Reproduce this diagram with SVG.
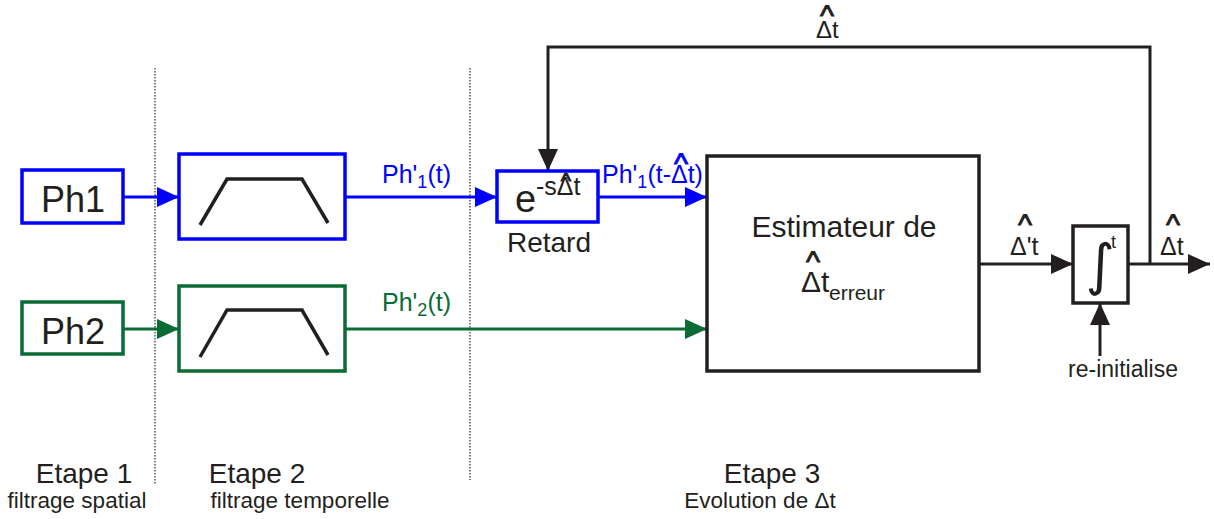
<svg xmlns="http://www.w3.org/2000/svg" width="1214" height="519" viewBox="0 0 1214 519">
<style>
text{font-family:"Liberation Sans",Arial,sans-serif;fill:#231f20}
.blue{fill:#0000ff}
.green{fill:#0a6b35}
.bbox{fill:#fff;stroke:#0000ff;stroke-width:3.5}
.gbox{fill:#fff;stroke:#0a6b35;stroke-width:3.5}
.kbox{fill:#fff;stroke:#231f20;stroke-width:3.5}
.trap{fill:none;stroke:#231f20;stroke-width:3.5}
.bl{stroke:#0000ff;stroke-width:3;fill:none}
.gl{stroke:#0a6b35;stroke-width:3;fill:none}
.kl{stroke:#231f20;stroke-width:3;fill:none}
.dot{stroke:#555;stroke-width:1.5;stroke-dasharray:1.5 1.5;fill:none}
.hat{text-anchor:middle;stroke:#231f20;stroke-width:0.9}
.hat.blue{stroke:#0000ff}
</style>
<defs>
<marker id="ab" markerUnits="userSpaceOnUse" markerWidth="24" markerHeight="22" refX="22" refY="10" orient="auto"><path d="M0,0 L22,10 L0,20 z" fill="#0000ff"/></marker>
<marker id="ag" markerUnits="userSpaceOnUse" markerWidth="24" markerHeight="22" refX="22" refY="10" orient="auto"><path d="M0,0 L22,10 L0,20 z" fill="#0a6b35"/></marker>
<marker id="ak" markerUnits="userSpaceOnUse" markerWidth="24" markerHeight="22" refX="22" refY="10" orient="auto"><path d="M0,0 L22,10 L0,20 z" fill="#231f20"/></marker>
</defs>
<rect width="1214" height="519" fill="#fff"/>

<g id="separators">
<line class="dot" x1="155" y1="68" x2="155" y2="484"/>
<line class="dot" x1="470" y1="68" x2="470" y2="480"/>
</g>

<g id="connectors">
<line class="bl" x1="123" y1="197" x2="179" y2="197" marker-end="url(#ab)"/>
<line class="gl" x1="123" y1="329" x2="179" y2="329" marker-end="url(#ag)"/>
<line class="bl" x1="345" y1="197" x2="497" y2="197" marker-end="url(#ab)"/>
<line class="bl" x1="598" y1="197" x2="707" y2="197" marker-end="url(#ab)"/>
<line class="gl" x1="345" y1="329" x2="707" y2="329" marker-end="url(#ag)"/>
<line class="kl" x1="979" y1="264" x2="1073" y2="264" marker-end="url(#ak)"/>
<line class="kl" x1="1128" y1="264" x2="1210" y2="264" marker-end="url(#ak)"/>
<polyline class="kl" points="1150,264 1150,47 548,47 548,171" marker-end="url(#ak)"/>
<line class="kl" x1="1100" y1="356" x2="1100" y2="303" marker-end="url(#ak)"/>
<text x="382" y="183" font-size="25" class="blue">Ph'<tspan font-size="18" dy="5" class="blue">1</tspan><tspan dy="-5" class="blue">(t)</tspan></text>
<text x="382" y="311" font-size="25" class="green">Ph'<tspan font-size="18" dy="5" class="green">2</tspan><tspan dy="-5" class="green">(t)</tspan></text>
<text x="602" y="183" font-size="25" class="blue">Ph'<tspan font-size="18" dy="5" class="blue">1</tspan><tspan dy="-5" class="blue">(t-Δt)</tspan></text>
<text x="681" y="174" font-size="30" class="hat blue">^</text>
<text x="816" y="38" font-size="24">Δt</text>
<text x="827" y="26" font-size="30" class="hat">^</text>
<text x="1010" y="255" font-size="25">Δ't</text>
<text x="1025" y="235" font-size="30" class="hat">^</text>
<text x="1160" y="255" font-size="25">Δt</text>
<text x="1173" y="235" font-size="30" class="hat">^</text>
<text x="1123" y="377" font-size="23" text-anchor="middle">re-initialise</text>
</g>

<g id="ph1">
<rect class="bbox" x="22" y="170" width="101" height="53"/>
<text x="73" y="212" font-size="36" text-anchor="middle">Ph1</text>
</g>
<g id="ph2">
<rect class="gbox" x="22" y="302" width="101" height="52"/>
<text x="73" y="344" font-size="36" text-anchor="middle">Ph2</text>
</g>
<g id="filter1">
<rect class="bbox" x="179" y="154" width="166" height="85"/>
<polyline class="trap" points="200,225 227,179 302,179 328,223"/>
</g>
<g id="filter2">
<rect class="gbox" x="179" y="286" width="166" height="85"/>
<polyline class="trap" points="200,357 227,310 302,310 328,355"/>
</g>
<g id="retard">
<rect class="bbox" x="497" y="171" width="101" height="51"/>
<text x="515" y="212" font-size="38">e</text>
<text x="536" y="195" font-size="25">-sΔt</text>
<text x="566" y="188" font-size="22" class="hat">^</text>
<text x="549" y="252" font-size="28" text-anchor="middle">Retard</text>
</g>
<g id="estimateur">
<rect class="kbox" x="707" y="156" width="272" height="215"/>
<text x="844" y="237" font-size="30" text-anchor="middle">Estimateur de</text>
<text x="801" y="292" font-size="30">Δt</text>
<text x="829" y="300" font-size="21">erreur</text>
<text x="813" y="272" font-size="30" class="hat">^</text>
</g>
<g id="integrateur">
<rect class="kbox" x="1073" y="226" width="55" height="77"/>
<text x="1100" y="284" font-size="56" text-anchor="middle" style="font-family:'DejaVu Sans',sans-serif">∫</text>
<text x="1111" y="248" font-size="18">t</text>
</g>

<g id="etapes">
<text x="84" y="483" font-size="28" text-anchor="middle">Etape 1</text>
<text x="77" y="508" font-size="22.5" text-anchor="middle">filtrage spatial</text>
<text x="257" y="483" font-size="28" text-anchor="middle">Etape 2</text>
<text x="300" y="508" font-size="22.5" text-anchor="middle">filtrage temporelle</text>
<text x="772" y="483" font-size="28" text-anchor="middle">Etape 3</text>
<text x="760" y="508" font-size="22.5" text-anchor="middle">Evolution de Δt</text>
</g>
</svg>
